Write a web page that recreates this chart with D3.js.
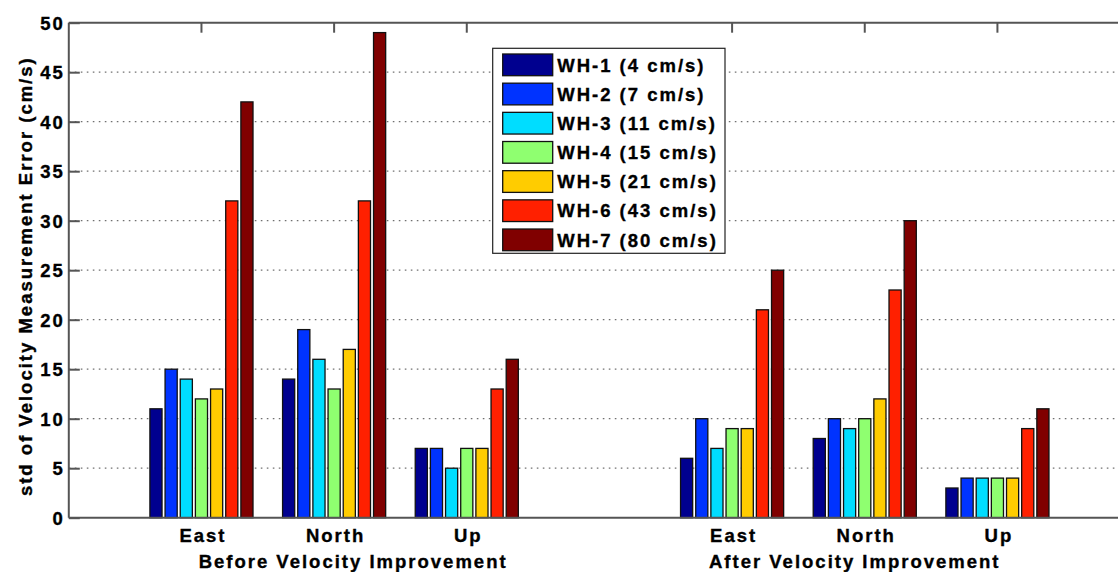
<!DOCTYPE html>
<html>
<head>
<meta charset="utf-8">
<script src="https://cdn.jsdelivr.net/npm/d3@7"></script>
<style>
  html, body { margin: 0; padding: 0; background: #fff; }
  svg text {
    font-family: "Liberation Sans", Arial, Helvetica, sans-serif; font-weight: bold;
    fill: #000; stroke: #000; stroke-width: 0.35px; letter-spacing: 2px;
  }
</style>
</head>
<body>
<svg id="chart" width="1118" height="572"></svg>
<script>
// Category labels and their positions on the numeric x axis (gap between the two phases)
const categories = ["East", "North", "Up", "East", "North", "Up"];
const categoryX = [1, 2, 3, 5, 6, 7];
const phaseLabels = ["Before Velocity Improvement", "After Velocity Improvement"];

// Instrument series (legend names)
const seriesNames = ["WH-1 (4 cm/s)", "WH-2 (7 cm/s)", "WH-3 (11 cm/s)", "WH-4 (15 cm/s)",
                     "WH-5 (21 cm/s)", "WH-6 (43 cm/s)", "WH-7 (80 cm/s)"];

// std of velocity error (cm/s), one value per category for each series
const wh1 = [11, 14, 7, 6, 8, 3];
const wh2 = [15, 19, 7, 10, 10, 4];
const wh3 = [14, 16, 5, 7, 9, 4];
const wh4 = [12, 13, 7, 9, 10, 4];
const wh5 = [13, 17, 7, 9, 12, 4];
const wh6 = [32, 32, 13, 21, 23, 9];
const wh7 = [42, 49, 16, 25, 30, 11];
const seriesValues = [wh1, wh2, wh3, wh4, wh5, wh6, wh7];

const seriesColors = ["#00008F", "#0033FF", "#00DDFF", "#8FFF70", "#FFCC00", "#FF2000", "#800000"];
const yTicks = [0, 5, 10, 15, 20, 25, 30, 35, 40, 45, 50];

const svg = d3.select("#chart");
const FS = "18.5px";

// Plot box: x domain 0..8 (right edge falls just outside the page), y 0..50
const plotLeft = 68.8, unit = 132.66;
const plotTop = 22.7, plotBottom = 517.7;
const x = d3.scaleLinear().domain([0, 8]).range([plotLeft, plotLeft + 8 * unit]);
const y = d3.scaleLinear().domain([0, 50]).range([plotBottom, plotTop]);

// Grouped bar geometry (MATLAB-style): group width 0.8, bar width 0.8 of slot
const nSeries = seriesNames.length;
const groupWidth = 0.8;
const slot = groupWidth / nSeries;
const barW = x(slot * 0.8) - x(0);
const offset = i => (i - (nSeries - 1) / 2) * slot;

// Dotted horizontal grid
svg.append("g").selectAll("line")
  .data(yTicks.filter(t => t > 0 && t < 50))
  .join("line")
  .attr("x1", x(0)).attr("x2", 1118)
  .attr("y1", d => y(d)).attr("y2", d => y(d))
  .attr("stroke", "#707070").attr("stroke-width", 1.3)
  .attr("stroke-dasharray", "1.6 4.4");

// Bars
const gBars = svg.append("g");
seriesValues.forEach((vals, si) => {
  gBars.append("g").selectAll("rect")
    .data(vals.map((v, ci) => ({ v, cx: categoryX[ci] })))
    .join("rect")
    .attr("x", d => x(d.cx + offset(si)) - barW / 2)
    .attr("width", barW)
    .attr("y", d => y(d.v))
    .attr("height", d => y(0) - y(d.v))
    .attr("fill", seriesColors[si])
    .attr("stroke", "#111").attr("stroke-width", 1.3);
});

// Axes lines (left, top, bottom)
const axisColor = "#555";
svg.append("line").attr("x1", x(0)).attr("x2", x(0)).attr("y1", y(50)).attr("y2", y(0))
  .attr("stroke", axisColor).attr("stroke-width", 2);
svg.append("line").attr("x1", x(0)).attr("x2", 1118).attr("y1", y(50)).attr("y2", y(50))
  .attr("stroke", axisColor).attr("stroke-width", 2);
svg.append("line").attr("x1", x(0)).attr("x2", 1118).attr("y1", y(0)).attr("y2", y(0))
  .attr("stroke", axisColor).attr("stroke-width", 2);

// Y axis: inward ticks with labels on the left
const yAxis = d3.axisLeft(y).tickValues(yTicks).tickSize(-11).tickPadding(4).tickFormat(d3.format("d"));
const gy = svg.append("g").attr("transform", `translate(${x(0)},0)`).call(yAxis);
gy.select(".domain").remove();
gy.attr("font-size", null).attr("font-family", null);
gy.selectAll(".tick line").attr("stroke", axisColor).attr("stroke-width", 2);
gy.selectAll(".tick text").attr("font-size", FS).attr("fill", null).attr("dy", "0.36em");

// Top axis: short inward ticks at category positions
svg.append("g").selectAll("line").data(categoryX).join("line")
  .attr("x1", d => x(d)).attr("x2", d => x(d))
  .attr("y1", y(50)).attr("y2", y(50) + 10)
  .attr("stroke", axisColor).attr("stroke-width", 2);

// Bottom axis: category labels
const xAxis = d3.axisBottom(x).tickValues(categoryX).tickSize(0).tickPadding(0)
  .tickFormat((d, i) => categories[i]);
const gx = svg.append("g").attr("transform", `translate(0,${y(0)})`).call(xAxis);
gx.select(".domain").remove();
gx.attr("font-size", null).attr("font-family", null);
gx.selectAll(".tick text")
  .attr("font-size", FS).attr("fill", null)
  .attr("y", 24).attr("dy", 0).attr("dx", 1);

// Phase labels under each group of three categories
const phaseX = [x(2) + 18, x(6) - 11];
svg.append("g").selectAll("text").data(phaseLabels).join("text")
  .attr("x", (d, i) => phaseX[i] + 1)
  .attr("y", y(0) + 50)
  .attr("text-anchor", "middle")
  .attr("font-size", FS)
  .text(d => d);

// Y axis title
svg.append("text")
  .attr("transform", `translate(31.5,${(y(0) + y(50)) / 2 + 6}) rotate(-90)`)
  .attr("text-anchor", "middle")
  .attr("font-size", FS)
  .text("std of Velocity Measurement Error (cm/s)");

// Legend
const legX = 492.7, legY = 48.3, legW = 232.3, legH = 205;
const leg = svg.append("g");
leg.append("rect").attr("x", legX).attr("y", legY).attr("width", legW).attr("height", legH)
  .attr("fill", "#fff").attr("stroke", "#222").attr("stroke-width", 1.2);
const rowStep = 29.17;
const items = leg.selectAll("g.item").data(seriesNames).join("g").attr("class", "item")
  .attr("transform", (d, i) => `translate(${legX + 10},${legY + 5.7 + i * rowStep})`);
items.append("rect").attr("width", 50).attr("height", 21.7)
  .attr("fill", (d, i) => seriesColors[i]).attr("stroke", "#111").attr("stroke-width", 1.3);
items.append("text").attr("x", 54.5).attr("y", 17.6)
  .attr("font-size", FS)
  .text(d => d);
</script>
</body>
</html>
